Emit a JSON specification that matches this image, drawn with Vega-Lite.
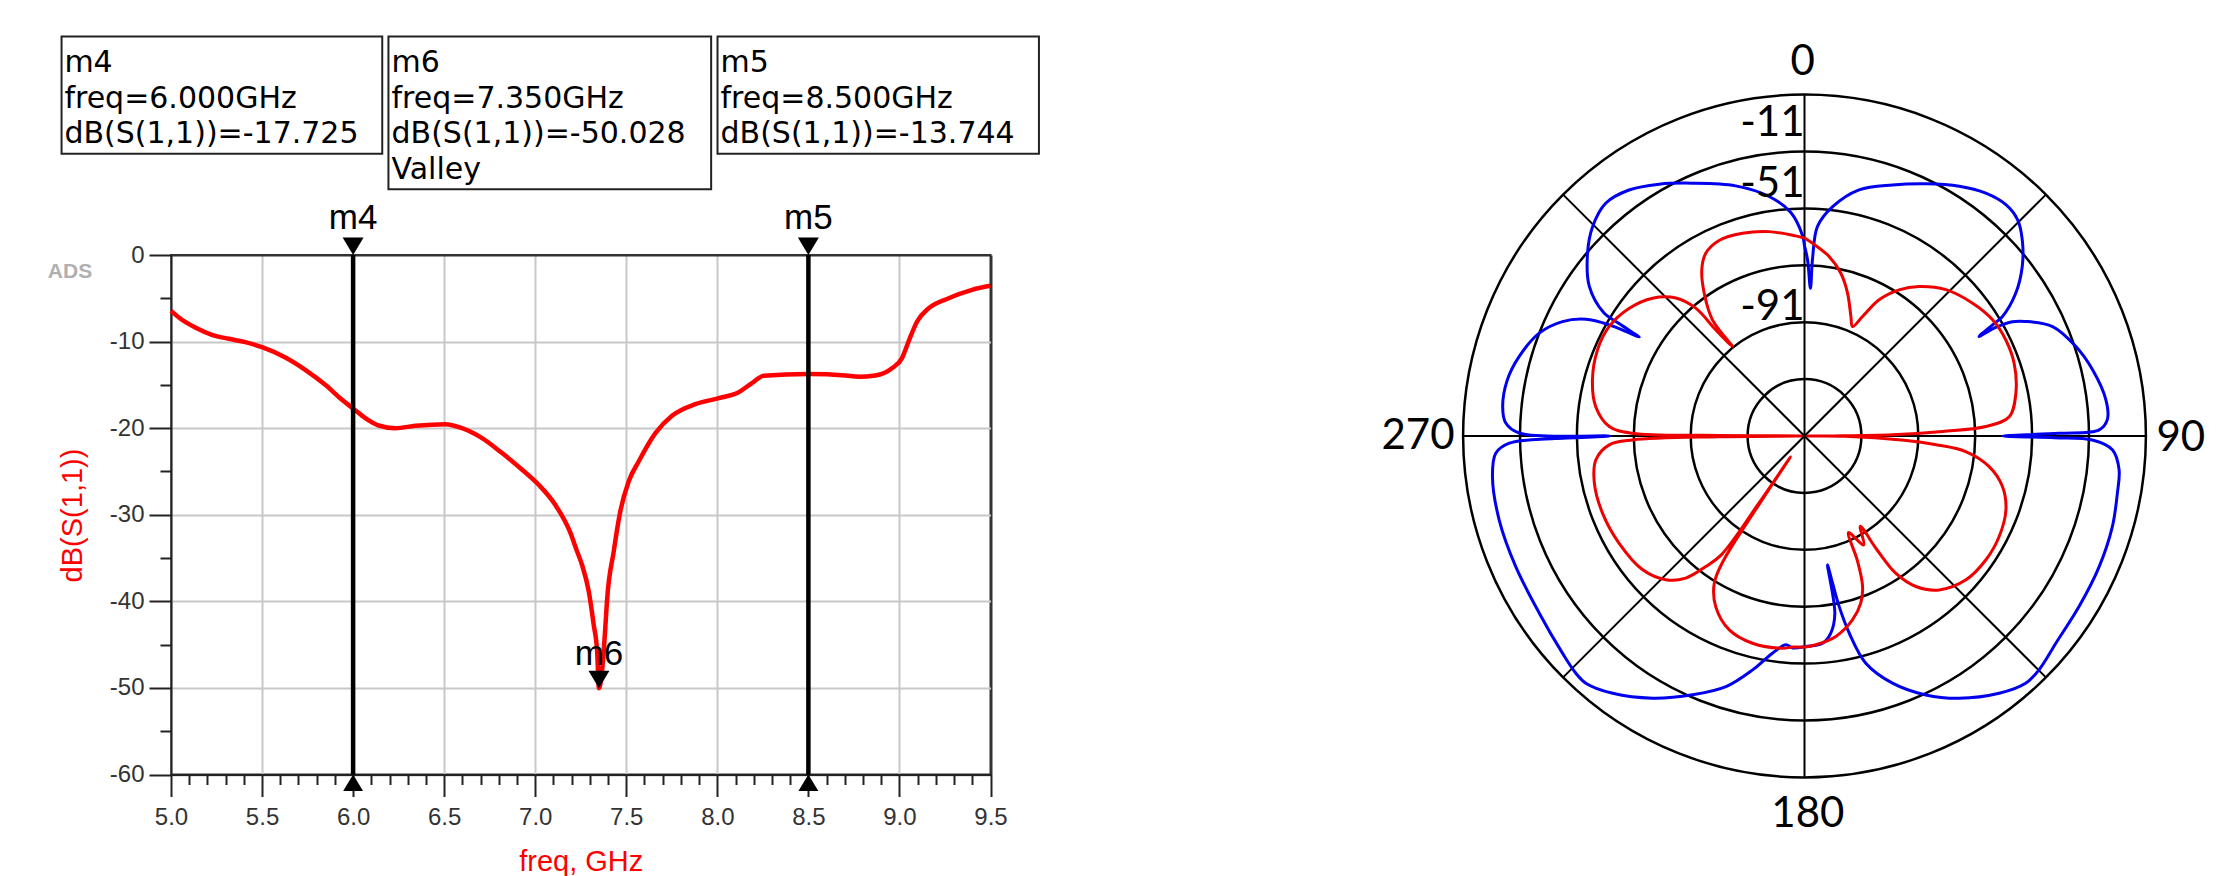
{
  "$schema": "https://vega.github.io/schema/vega-lite/v6.json",
  "background": "white",
  "padding": {"left": 46, "top": 34, "right": 10, "bottom": 0},
  "bounds": "flush",
  "spacing": 472.1,
  "hconcat": [
    {
      "width": 819.5,
      "height": 519.5,
      "view": {"stroke": "#333", "strokeWidth": 2},
      "resolve": {"axis": {"x": "independent", "y": "independent"}},
      "layer": [
        {
          "data": {"values": [{}]},
          "mark": {"type": "point", "opacity": 0},
          "encoding": {
            "x": {"datum": 5, "type": "quantitative", "scale": {"domain": [5, 9.5], "nice": false, "zero": false},
              "axis": {"orient": "bottom", "values": [5.1,5.2,5.3,5.4,5.6,5.7,5.8,5.9,6.1,6.2,6.3,6.4,6.6,6.7,6.8,6.9,7.1,7.2,7.3,7.4,7.6,7.7,7.8,7.9,8.1,8.2,8.3,8.4,8.6,8.7,8.8,8.9,9.1,9.2,9.3,9.4],
                "labels": false, "domain": false, "grid": false, "tickSize": 10, "tickWidth": 2, "tickColor": "#222", "title": null}},
            "y": {"datum": -60, "type": "quantitative", "scale": {"domain": [-60, 0], "nice": false, "zero": false},
              "axis": {"orient": "left", "values": [-55,-45,-35,-25,-15,-5], "labels": false, "domain": false, "grid": false, "tickSize": 11, "tickWidth": 2, "tickColor": "#222", "title": null}}
          }
        },
        {
          "data": {"values": [
            {"freq":5.0,"dB":-6.45},{"freq":5.06,"dB":-7.48},{"freq":5.133,"dB":-8.37},{"freq":5.225,"dB":-9.22},{"freq":5.317,"dB":-9.68},{"freq":5.408,"dB":-10.07},{"freq":5.5,"dB":-10.64},{"freq":5.628,"dB":-11.84},{"freq":5.737,"dB":-13.26},{"freq":5.847,"dB":-14.99},{"freq":5.939,"dB":-16.72},{"freq":6.0,"dB":-17.73},{"freq":6.067,"dB":-18.84},{"freq":6.14,"dB":-19.69},{"freq":6.232,"dB":-20.0},{"freq":6.342,"dB":-19.73},{"freq":6.506,"dB":-19.54},{"freq":6.598,"dB":-20.0},{"freq":6.708,"dB":-21.15},{"freq":6.818,"dB":-22.88},{"freq":6.928,"dB":-24.8},{"freq":7.019,"dB":-26.54},{"freq":7.11,"dB":-28.85},{"freq":7.19,"dB":-31.93},{"freq":7.23,"dB":-34.24},{"freq":7.257,"dB":-35.8},{"freq":7.294,"dB":-38.86},{"freq":7.321,"dB":-42.7},{"freq":7.34,"dB":-45.79},{"freq":7.35,"dB":-50.03},{"freq":7.376,"dB":-45.79},{"freq":7.385,"dB":-43.0},{"freq":7.394,"dB":-40.0},{"freq":7.431,"dB":-34.24},{"freq":7.467,"dB":-29.62},{"freq":7.513,"dB":-26.15},{"freq":7.568,"dB":-23.85},{"freq":7.66,"dB":-20.58},{"freq":7.751,"dB":-18.57},{"freq":7.879,"dB":-17.23},{"freq":8.008,"dB":-16.54},{"freq":8.117,"dB":-15.84},{"freq":8.19,"dB":-14.8},{"freq":8.255,"dB":-13.95},{"freq":8.5,"dB":-13.74},{"freq":8.703,"dB":-13.91},{"freq":8.776,"dB":-14.07},{"freq":8.868,"dB":-13.91},{"freq":8.959,"dB":-13.07},{"freq":9.014,"dB":-11.91},{"freq":9.05,"dB":-9.99},{"freq":9.097,"dB":-7.68},{"freq":9.161,"dB":-6.14},{"freq":9.27,"dB":-4.99},{"freq":9.399,"dB":-4.02},{"freq":9.5,"dB":-3.56}
          ]},
          "mark": {"type": "line", "color": "#ff0000", "strokeWidth": 4.5, "strokeJoin": "round", "interpolate": "monotone"},
          "encoding": {
            "x": {"field": "freq", "type": "quantitative",
              "axis": {"orient": "bottom", "values": [5,5.5,6,6.5,7,7.5,8,8.5,9,9.5], "format": ".1f",
                "grid": true, "gridColor": {"condition": {"test": "datum.value >= 9.5", "value": "#333"}, "value": "#c8c8c8"}, "gridWidth": 2,
                "domain": true, "domainColor": "#222", "domainWidth": 2,
                "ticks": true, "tickSize": 22, "tickWidth": 2, "tickColor": "#222",
                "labelFont": "Liberation Sans", "labelFontSize": 24, "labelColor": "#333", "labelPadding": 9, "labelFlush": false, "labelOverlap": false,
                "title": "freq, GHz", "titleFont": "Liberation Sans", "titleFontSize": 29, "titleFontWeight": "normal", "titleColor": "#ff0000",
                "titleY": 96, "titleBaseline": "alphabetic"}},
            "y": {"field": "dB", "type": "quantitative",
              "axis": {"orient": "left", "values": [-60,-50,-40,-30,-20,-10,0],
                "labelExpr": "datum.value < 0 ? '-' + format(-datum.value, 'd') : format(datum.value, 'd')",
                "grid": true, "gridColor": {"condition": {"test": "datum.value >= 0", "value": "#333"}, "value": "#c8c8c8"}, "gridWidth": 2,
                "domain": true, "domainColor": "#222", "domainWidth": 2,
                "ticks": true, "tickSize": 22, "tickWidth": 2, "tickColor": "#222",
                "labelFont": "Liberation Sans", "labelFontSize": 24, "labelColor": "#333", "labelPadding": 5, "labelFlush": false, "labelOverlap": false,
                "title": "dB(S(1,1))", "titleFont": "Liberation Sans", "titleFontSize": 29, "titleFontWeight": "normal", "titleColor": "#ff0000",
                "titleX": -99, "titleY": 260, "titleAngle": -90, "titleAlign": "center", "titleBaseline": "middle"}}
          }
        },
        {
          "data": {"values": [{"marker":"m4","freq":6.0,"dB":-17.725},{"marker":"m6","freq":7.35,"dB":-50.028},{"marker":"m5","freq":8.5,"dB":-13.744}]},
          "transform": [{"filter": "datum.marker !== 'm6'"}],
          "layer": [
            {
              "mark": {"type": "rule", "color": "#000", "strokeWidth": 4.5},
              "encoding": {
                "x": {"field": "freq", "type": "quantitative", "axis": null},
                "y": {"datum": 0, "type": "quantitative", "axis": null},
                "y2": {"datum": -60}
              }
            },
            {
              "mark": {"type": "point", "shape": "M0,0L-0.6,-1L0.6,-1Z", "size": 1225, "filled": true, "color": "#000", "opacity": 1, "strokeWidth": 0},
              "encoding": {
                "x": {"field": "freq", "type": "quantitative", "axis": null},
                "y": {"datum": 0, "type": "quantitative", "axis": null}
              }
            },
            {
              "mark": {"type": "point", "shape": "M0,0L-0.6,1L0.6,1Z", "size": 1100, "filled": true, "color": "#000", "opacity": 1, "strokeWidth": 0},
              "encoding": {
                "x": {"field": "freq", "type": "quantitative", "axis": null},
                "y": {"datum": -60, "type": "quantitative", "axis": null}
              }
            },
            {
              "mark": {"type": "text", "font": "Liberation Sans", "fontSize": 35, "color": "#000", "align": "center", "baseline": "alphabetic"},
              "encoding": {
                "x": {"field": "freq", "type": "quantitative", "axis": null},
                "y": {"datum": 2.95, "type": "quantitative", "axis": null},
                "text": {"field": "marker"}
              }
            }
          ]
        },
        {
          "data": {"values": [{"marker":"m4","freq":6.0,"dB":-17.725},{"marker":"m6","freq":7.35,"dB":-50.028},{"marker":"m5","freq":8.5,"dB":-13.744}]},
          "transform": [{"filter": "datum.marker === 'm6'"}],
          "layer": [
            {
              "mark": {"type": "point", "shape": "M0,0L-0.6,-1L0.6,-1Z", "size": 1225, "filled": true, "color": "#000", "opacity": 1, "strokeWidth": 0},
              "encoding": {
                "x": {"field": "freq", "type": "quantitative", "axis": null},
                "y": {"field": "dB", "type": "quantitative", "axis": null}
              }
            },
            {
              "mark": {"type": "text", "font": "Liberation Sans", "fontSize": 35, "color": "#000", "align": "center", "baseline": "alphabetic"},
              "encoding": {
                "x": {"field": "freq", "type": "quantitative", "axis": null},
                "y": {"datum": -47.3, "type": "quantitative", "axis": null},
                "text": {"field": "marker"}
              }
            }
          ]
        },
        {
          "data": {"values": [{"label": "ADS"}]},
          "mark": {"type": "text", "font": "Liberation Sans", "fontSize": 21, "fontWeight": "bold", "color": "#b0b0b0", "align": "center", "baseline": "middle"},
          "encoding": {
            "x": {"datum": 4.4454, "type": "quantitative", "axis": null},
            "y": {"datum": -2.02, "type": "quantitative", "axis": null},
            "text": {"field": "label"}
          }
        },
        {
          "data": {"values": [{}]},
          "mark": {"type": "rect", "filled": false, "stroke": "#222", "strokeWidth": 2},
          "encoding": {
            "x": {"datum": 4.399, "type": "quantitative", "axis": null}, "x2": {"datum": 6.16},
            "y": {"datum": 25.24, "type": "quantitative", "axis": null}, "y2": {"datum": 11.69}
          }
        },
        {
          "data": {"values": [{}]},
          "mark": {"type": "rect", "filled": false, "stroke": "#222", "strokeWidth": 2},
          "encoding": {
            "x": {"datum": 6.194, "type": "quantitative", "axis": null}, "x2": {"datum": 7.966},
            "y": {"datum": 25.24, "type": "quantitative", "axis": null}, "y2": {"datum": 7.6}
          }
        },
        {
          "data": {"values": [{}]},
          "mark": {"type": "rect", "filled": false, "stroke": "#222", "strokeWidth": 2},
          "encoding": {
            "x": {"datum": 8.001, "type": "quantitative", "axis": null}, "x2": {"datum": 9.766},
            "y": {"datum": 25.24, "type": "quantitative", "axis": null}, "y2": {"datum": 11.69}
          }
        },
        {
          "data": {"values": [{"lines": ["m4", "freq=6.000GHz", "dB(S(1,1))=-17.725"]}]},
          "mark": {"type": "text", "font": "DejaVu Sans", "fontSize": 30, "lineHeight": 35.5, "color": "#000", "align": "left", "baseline": "alphabetic"},
          "encoding": {
            "x": {"datum": 4.4146, "type": "quantitative", "axis": null},
            "y": {"datum": 21.08, "type": "quantitative", "axis": null},
            "text": {"field": "lines"}
          }
        },
        {
          "data": {"values": [{"lines": ["m6", "freq=7.350GHz", "dB(S(1,1))=-50.028", "Valley"]}]},
          "mark": {"type": "text", "font": "DejaVu Sans", "fontSize": 30, "lineHeight": 35.5, "color": "#000", "align": "left", "baseline": "alphabetic"},
          "encoding": {
            "x": {"datum": 6.211, "type": "quantitative", "axis": null},
            "y": {"datum": 21.08, "type": "quantitative", "axis": null},
            "text": {"field": "lines"}
          }
        },
        {
          "data": {"values": [{"lines": ["m5", "freq=8.500GHz", "dB(S(1,1))=-13.744"]}]},
          "mark": {"type": "text", "font": "DejaVu Sans", "fontSize": 30, "lineHeight": 35.5, "color": "#000", "align": "left", "baseline": "alphabetic"},
          "encoding": {
            "x": {"datum": 8.0176, "type": "quantitative", "axis": null},
            "y": {"datum": 21.08, "type": "quantitative", "axis": null},
            "text": {"field": "lines"}
          }
        }
      ]
    },
    {
      "width": 682.8,
      "height": 519.5,
      "view": {"stroke": null},
      "layer": [
        {
          "data": {"values": [{"level": -111},{"level": -91},{"level": -71},{"level": -51},{"level": -31},{"level": -11}]},
          "mark": {"type": "arc", "filled": false, "stroke": "#000", "strokeWidth": 2.5, "theta": 0, "theta2": 6.2832},
          "encoding": {
            "x": {"datum": 0, "type": "quantitative", "scale": {"domain": [-6, 6], "nice": false, "zero": false}, "axis": null},
            "y": {"datum": 0, "type": "quantitative", "scale": {"domain": [-6, 6], "range": [522.4, -160.4], "nice": false, "zero": false}, "axis": null},
            "radius": {"field": "level", "type": "quantitative", "stack": null, "scale": {"type": "linear", "domain": [-131, -11], "range": [0, 341.4], "zero": false, "nice": false}}
          }
        },
        {
          "data": {"values": [{}]},
          "mark": {"type": "rule", "color": "#000", "strokeWidth": 2},
          "encoding": {"x": {"datum": -6, "type": "quantitative", "axis": null}, "y": {"datum": 0, "type": "quantitative", "axis": null}, "x2": {"datum": 6}, "y2": {"datum": 0}}
        },
        {
          "data": {"values": [{}]},
          "mark": {"type": "rule", "color": "#000", "strokeWidth": 2},
          "encoding": {"x": {"datum": 0, "type": "quantitative", "axis": null}, "y": {"datum": 6, "type": "quantitative", "axis": null}, "x2": {"datum": 0}, "y2": {"datum": -6}}
        },
        {
          "data": {"values": [{}]},
          "mark": {"type": "rule", "color": "#000", "strokeWidth": 2},
          "encoding": {"x": {"datum": -4.2426, "type": "quantitative", "axis": null}, "y": {"datum": 4.2426, "type": "quantitative", "axis": null}, "x2": {"datum": 4.2426}, "y2": {"datum": -4.2426}}
        },
        {
          "data": {"values": [{}]},
          "mark": {"type": "rule", "color": "#000", "strokeWidth": 2},
          "encoding": {"x": {"datum": 4.2426, "type": "quantitative", "axis": null}, "y": {"datum": 4.2426, "type": "quantitative", "axis": null}, "x2": {"datum": -4.2426}, "y2": {"datum": -4.2426}}
        },
        {
          "data": {"values": [
            {"series":"blue","angle":0,"dB":-64.2},{"series":"blue","angle":1.0,"dB":-69.1},{"series":"blue","angle":2.3,"dB":-79.0},{"series":"blue","angle":2.6,"dB":-68.4},{"series":"blue","angle":3.55,"dB":-57.2},{"series":"blue","angle":7.0,"dB":-49.8},{"series":"blue","angle":12.5,"dB":-42.4},{"series":"blue","angle":19.3,"dB":-37.5},{"series":"blue","angle":25.7,"dB":-32.6},{"series":"blue","angle":31.8,"dB":-27.7},{"series":"blue","angle":36.75,"dB":-24.5},{"series":"blue","angle":41.05,"dB":-23.2},{"series":"blue","angle":44.6,"dB":-24.3},{"series":"blue","angle":48.0,"dB":-28.0},{"series":"blue","angle":52.1,"dB":-34.0},{"series":"blue","angle":55.95,"dB":-41.4},{"series":"blue","angle":58.9,"dB":-49.8},{"series":"blue","angle":59.4,"dB":-54.2},{"series":"blue","angle":60.3,"dB":-60.4},{"series":"blue","angle":60.4,"dB":-53.7},{"series":"blue","angle":61.2,"dB":-47.6},{"series":"blue","angle":62.6,"dB":-43.5},{"series":"blue","angle":66.2,"dB":-35.7},{"series":"blue","angle":71.7,"dB":-30.6},{"series":"blue","angle":77.05,"dB":-27.1},{"series":"blue","angle":83.15,"dB":-24.3},{"series":"blue","angle":86.9,"dB":-24.4},{"series":"blue","angle":88.8,"dB":-27.4},{"series":"blue","angle":89.4,"dB":-41.5},{"series":"blue","angle":90.0,"dB":-61.4},{"series":"blue","angle":90.4,"dB":-43.1},{"series":"blue","angle":90.8,"dB":-29.8},{"series":"blue","angle":92.6,"dB":-22.6},{"series":"blue","angle":96.1,"dB":-19.8},{"series":"blue","angle":100.4,"dB":-19.2},{"series":"blue","angle":106.4,"dB":-18.2},{"series":"blue","angle":113.9,"dB":-17.7},{"series":"blue","angle":121.8,"dB":-17.4},{"series":"blue","angle":129.5,"dB":-16.5},{"series":"blue","angle":134.9,"dB":-14.6},{"series":"blue","angle":138.2,"dB":-14.4},{"series":"blue","angle":142.9,"dB":-17.6},{"series":"blue","angle":149.5,"dB":-24.0},{"series":"blue","angle":154.9,"dB":-30.5},{"series":"blue","angle":160.4,"dB":-38.8},{"series":"blue","angle":164.9,"dB":-48.3},{"series":"blue","angle":167.2,"dB":-59.9},{"series":"blue","angle":168.5,"dB":-69.8},{"series":"blue","angle":169.2,"dB":-78.3},{"series":"blue","angle":169.9,"dB":-85.0},{"series":"blue","angle":170.3,"dB":-67.7},{"series":"blue","angle":172.4,"dB":-61.1},{"series":"blue","angle":175,"dB":-57.9},{"series":"blue","angle":179.6,"dB":-57.0},{"series":"blue","angle":183.2,"dB":-56.4},{"series":"blue","angle":185.1,"dB":-57.3},{"series":"blue","angle":188.4,"dB":-53.8},{"series":"blue","angle":192.5,"dB":-46.8},{"series":"blue","angle":197.4,"dB":-38.7},{"series":"blue","angle":203.4,"dB":-31.9},{"series":"blue","angle":210.1,"dB":-24.5},{"series":"blue","angle":216.7,"dB":-18.2},{"series":"blue","angle":221.5,"dB":-15.0},{"series":"blue","angle":223.95,"dB":-15.2},{"series":"blue","angle":228.1,"dB":-16.7},{"series":"blue","angle":236.3,"dB":-18.9},{"series":"blue","angle":245.7,"dB":-19.6},{"series":"blue","angle":254.65,"dB":-19.7},{"series":"blue","angle":262.6,"dB":-20.4},{"series":"blue","angle":266.8,"dB":-22.3},{"series":"blue","angle":268.6,"dB":-27.2},{"series":"blue","angle":269.4,"dB":-43.1},{"series":"blue","angle":270,"dB":-62.5},{"series":"blue","angle":270.6,"dB":-30.7},{"series":"blue","angle":272.5,"dB":-25.9},{"series":"blue","angle":275.6,"dB":-24.4},{"series":"blue","angle":280.7,"dB":-24.7},{"series":"blue","angle":285.6,"dB":-26.9},{"series":"blue","angle":291.2,"dB":-31.0},{"series":"blue","angle":295.3,"dB":-36.9},{"series":"blue","angle":298.1,"dB":-43.9},{"series":"blue","angle":299.65,"dB":-52.0},{"series":"blue","angle":300.4,"dB":-58.9},{"series":"blue","angle":300.9,"dB":-63.3},{"series":"blue","angle":301.2,"dB":-55.4},{"series":"blue","angle":301.6,"dB":-48.0},{"series":"blue","angle":304.8,"dB":-38.9},{"series":"blue","angle":310.1,"dB":-31.3},{"series":"blue","angle":314.65,"dB":-26.3},{"series":"blue","angle":319.5,"dB":-23.4},{"series":"blue","angle":324.5,"dB":-24.8},{"series":"blue","angle":330,"dB":-28.8},{"series":"blue","angle":336.1,"dB":-33.8},{"series":"blue","angle":344.6,"dB":-39.8},{"series":"blue","angle":351.6,"dB":-45.9},{"series":"blue","angle":356.5,"dB":-52.3},{"series":"blue","angle":359.4,"dB":-60.4},{"series":"blue","angle":360,"dB":-64.2},
            {"series":"red","angle":0,"dB":-61.4},{"series":"red","angle":2.4,"dB":-63.2},{"series":"red","angle":7.8,"dB":-67.3},{"series":"red","angle":12.6,"dB":-72.4},{"series":"red","angle":16.8,"dB":-78.6},{"series":"red","angle":21.2,"dB":-85.9},{"series":"red","angle":23.7,"dB":-89.0},{"series":"red","angle":25.9,"dB":-84.3},{"series":"red","angle":28.7,"dB":-76.4},{"series":"red","angle":32.9,"dB":-69.8},{"series":"red","angle":37.5,"dB":-64.8},{"series":"red","angle":44.0,"dB":-59.5},{"series":"red","angle":51.7,"dB":-55.7},{"series":"red","angle":58.3,"dB":-53.3},{"series":"red","angle":64.5,"dB":-52.6},{"series":"red","angle":70.85,"dB":-53.0},{"series":"red","angle":78.55,"dB":-55.2},{"series":"red","angle":84.6,"dB":-58.7},{"series":"red","angle":87.0,"dB":-67.2},{"series":"red","angle":88.1,"dB":-82.5},{"series":"red","angle":89.2,"dB":-100.1},{"series":"red","angle":89.8,"dB":-120.5},{"series":"red","angle":90.0,"dB":-129.9},{"series":"red","angle":90.3,"dB":-116.9},{"series":"red","angle":92.5,"dB":-95.9},{"series":"red","angle":93.8,"dB":-84.7},{"series":"red","angle":95.5,"dB":-74.1},{"series":"red","angle":99.4,"dB":-65.2},{"series":"red","angle":104.3,"dB":-59.2},{"series":"red","angle":110.1,"dB":-55.6},{"series":"red","angle":117.3,"dB":-54.0},{"series":"red","angle":124.3,"dB":-53.8},{"series":"red","angle":131.7,"dB":-55.0},{"series":"red","angle":138.8,"dB":-59.1},{"series":"red","angle":143.5,"dB":-65.2},{"series":"red","angle":146.4,"dB":-73.1},{"series":"red","angle":147.5,"dB":-83.5},{"series":"red","angle":148.3,"dB":-93.7},{"series":"red","angle":151.5,"dB":-87.4},{"series":"red","angle":155.5,"dB":-93.7},{"series":"red","angle":157,"dB":-83.5},{"series":"red","angle":158.9,"dB":-74.3},{"series":"red","angle":161.4,"dB":-69.0},{"series":"red","angle":165.4,"dB":-64.2},{"series":"red","angle":171.1,"dB":-59.7},{"series":"red","angle":176.9,"dB":-57.5},{"series":"red","angle":180,"dB":-56.8},{"series":"red","angle":183.3,"dB":-56.7},{"series":"red","angle":185.9,"dB":-56.0},{"series":"red","angle":194.1,"dB":-55.9},{"series":"red","angle":201.2,"dB":-57.9},{"series":"red","angle":207.5,"dB":-63.4},{"series":"red","angle":211.5,"dB":-70.3},{"series":"red","angle":213.0,"dB":-78.3},{"series":"red","angle":213.6,"dB":-102.9},{"series":"red","angle":213.8,"dB":-122.2},{"series":"red","angle":214.2,"dB":-102.9},{"series":"red","angle":215.0,"dB":-80.0},{"series":"red","angle":217.1,"dB":-73.5},{"series":"red","angle":219.9,"dB":-65.9},{"series":"red","angle":224.0,"dB":-60.8},{"series":"red","angle":230.4,"dB":-57.2},{"series":"red","angle":240,"dB":-55.7},{"series":"red","angle":249.1,"dB":-55.0},{"series":"red","angle":257.35,"dB":-55.3},{"series":"red","angle":263.5,"dB":-57.2},{"series":"red","angle":267.4,"dB":-62.3},{"series":"red","angle":268.7,"dB":-70.5},{"series":"red","angle":269.5,"dB":-101.1},{"series":"red","angle":270,"dB":-129.9},{"series":"red","angle":270.4,"dB":-101.1},{"series":"red","angle":270.9,"dB":-70.5},{"series":"red","angle":272.8,"dB":-62.3},{"series":"red","angle":278,"dB":-56.9},{"series":"red","angle":284.8,"dB":-53.9},{"series":"red","angle":292.6,"dB":-52.2},{"series":"red","angle":299.3,"dB":-52.3},{"series":"red","angle":306.1,"dB":-54.8},{"series":"red","angle":312.2,"dB":-58.9},{"series":"red","angle":317,"dB":-64.7},{"series":"red","angle":319.6,"dB":-72.0},{"series":"red","angle":320.1,"dB":-82.4},{"series":"red","angle":321.2,"dB":-90.6},{"series":"red","angle":321.6,"dB":-78.9},{"series":"red","angle":324.9,"dB":-69.7},{"series":"red","angle":328.3,"dB":-62.3},{"series":"red","angle":331.6,"dB":-58.0},{"series":"red","angle":336.4,"dB":-56.0},{"series":"red","angle":343,"dB":-56.5},{"series":"red","angle":350.2,"dB":-58.1},{"series":"red","angle":357.5,"dB":-60.6},{"series":"red","angle":360,"dB":-61.4}
          ]},
          "transform": [
            {"calculate": "(datum.dB + 131) / 20", "as": "r"},
            {"calculate": "datum.r * sin(datum.angle * PI / 180)", "as": "px"},
            {"calculate": "datum.r * cos(datum.angle * PI / 180)", "as": "py"}
          ],
          "mark": {"type": "line", "strokeWidth": 3, "strokeJoin": "round", "interpolate": "catmull-rom"},
          "encoding": {
            "x": {"field": "px", "type": "quantitative", "axis": null},
            "y": {"field": "py", "type": "quantitative", "axis": null},
            "color": {"field": "series", "type": "nominal", "scale": {"domain": ["blue", "red"], "range": ["#0000ee", "#ee0000"]}, "legend": null},
            "order": {"field": "angle", "type": "quantitative"}
          }
        },
        {
          "data": {"values": [{"t": "0"}]},
          "mark": {"type": "text", "font": "Lato", "fontSize": 42, "color": "#000", "align": "center", "baseline": "alphabetic"},
          "encoding": {"x": {"datum": -0.03, "type": "quantitative", "axis": null}, "y": {"datum": 6.336, "type": "quantitative", "axis": null}, "text": {"field": "t"}}
        },
        {
          "data": {"values": [{"t": "180"}]},
          "mark": {"type": "text", "font": "Lato", "fontSize": 42, "color": "#000", "align": "center", "baseline": "alphabetic"},
          "encoding": {"x": {"datum": 0.06, "type": "quantitative", "axis": null}, "y": {"datum": -6.863, "type": "quantitative", "axis": null}, "text": {"field": "t"}}
        },
        {
          "data": {"values": [{"t": "270"}]},
          "mark": {"type": "text", "font": "Lato", "fontSize": 42, "color": "#000", "align": "right", "baseline": "alphabetic"},
          "encoding": {"x": {"datum": -6.151, "type": "quantitative", "axis": null}, "y": {"datum": -0.237, "type": "quantitative", "axis": null}, "text": {"field": "t"}}
        },
        {
          "data": {"values": [{"t": "90"}]},
          "mark": {"type": "text", "font": "Lato", "fontSize": 42, "color": "#000", "align": "left", "baseline": "alphabetic"},
          "encoding": {"x": {"datum": 6.186, "type": "quantitative", "axis": null}, "y": {"datum": -0.255, "type": "quantitative", "axis": null}, "text": {"field": "t"}}
        },
        {
          "data": {"values": [{"t": "-11", "r": 5.264}, {"t": "-51", "r": 4.209}, {"t": "-91", "r": 2.047}]},
          "mark": {"type": "text", "font": "Lato", "fontSize": 42, "color": "#000", "align": "right", "baseline": "alphabetic"},
          "encoding": {"x": {"datum": 0, "type": "quantitative", "axis": null}, "y": {"field": "r", "type": "quantitative", "axis": null}, "text": {"field": "t"}}
        }
      ]
    }
  ]
}
